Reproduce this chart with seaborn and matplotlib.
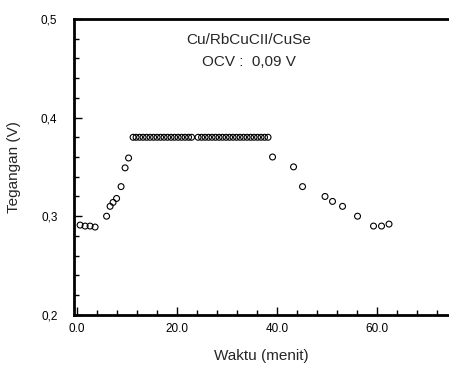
import matplotlib
matplotlib.use("Agg")
import matplotlib.pyplot as plt
import numpy as np
import pandas as pd
import seaborn as sns
from matplotlib.ticker import FixedFormatter, FixedLocator, MultipleLocator

# waktu (menit) vs tegangan (V)
rise_time = [0.6, 1.6, 2.6, 3.6, 5.9, 6.6, 7.2, 7.9, 8.8, 9.6, 10.3]
rise_volt = [0.291, 0.290, 0.290, 0.289, 0.300, 0.310, 0.314, 0.318, 0.330, 0.349, 0.359]

plateau_time = [11.2, 11.8, 12.5, 13.2, 13.9, 14.6, 15.3, 16.0, 16.7, 17.4, 18.1,
                18.8, 19.5, 20.2, 20.9, 21.6, 22.3, 22.9, 24.2, 24.9, 25.6, 26.3,
                27.0, 27.7, 28.4, 29.1, 29.8, 30.5, 31.2, 31.9, 32.6, 33.3, 34.0,
                34.7, 35.4, 36.1, 36.8, 37.5, 38.2]
plateau_volt = [0.380] * len(plateau_time)

fall_time = [39.1, 43.3, 45.1, 49.6, 51.1, 53.1, 56.1, 59.3, 60.9, 62.4]
fall_volt = [0.360, 0.350, 0.330, 0.320, 0.315, 0.310, 0.300, 0.290, 0.290, 0.292]

x_ticks = [0, 20, 40, 60]
x_tick_labels = ["0.0", "20.0", "40.0", "60.0"]
y_ticks = [0.2, 0.3, 0.4, 0.5]
y_tick_labels = ["0,2", "0,3", "0,4", "0,5"]

df = pd.DataFrame({
    "waktu": rise_time + plateau_time + fall_time,
    "tegangan": rise_volt + plateau_volt + fall_volt,
})

sns.set_style("ticks")
plt.rcParams["font.family"] = ["Liberation Sans", "DejaVu Sans"]

fig = plt.figure(figsize=(4.49, 3.70), dpi=100)
ax = fig.add_axes([0.165, 0.149, 0.835, 0.800])

sns.scatterplot(data=df, x="waktu", y="tegangan", ax=ax, marker="o",
                s=18, fc="none", ec="black", linewidth=0.8, legend=False)

ax.set_xlim(-0.6, 74.4)
ax.set_ylim(0.2, 0.5)

ax.xaxis.set_major_locator(FixedLocator(x_ticks))
ax.xaxis.set_major_formatter(FixedFormatter(x_tick_labels))
ax.xaxis.set_minor_locator(MultipleLocator(4))
ax.yaxis.set_major_locator(FixedLocator(y_ticks))
ax.yaxis.set_major_formatter(FixedFormatter(y_tick_labels))
ax.yaxis.set_minor_locator(MultipleLocator(0.02))

ax.tick_params(which="both", direction="in", colors="black", labelsize=8.5)
ax.tick_params(which="major", length=6, width=1.0)
ax.tick_params(which="minor", length=3.5, width=1.0)
ax.tick_params(axis="x", which="major", pad=6)
ax.tick_params(axis="y", which="major", pad=12)

for side in ["left", "bottom", "top"]:
    ax.spines[side].set_linewidth(2.0)
    ax.spines[side].set_color("black")
ax.spines["right"].set_visible(False)

ax.set_xlabel("Waktu (menit)", fontsize=11, labelpad=10)
ax.set_ylabel("Tegangan (V)", fontsize=11, labelpad=14)

ax.text(34.4, 0.479, "Cu/RbCuCII/CuSe", ha="center", va="center", fontsize=11)
ax.text(34.4, 0.456, "OCV :  0,09 V", ha="center", va="center", fontsize=11)

fig.savefig("out.png", dpi=100)
